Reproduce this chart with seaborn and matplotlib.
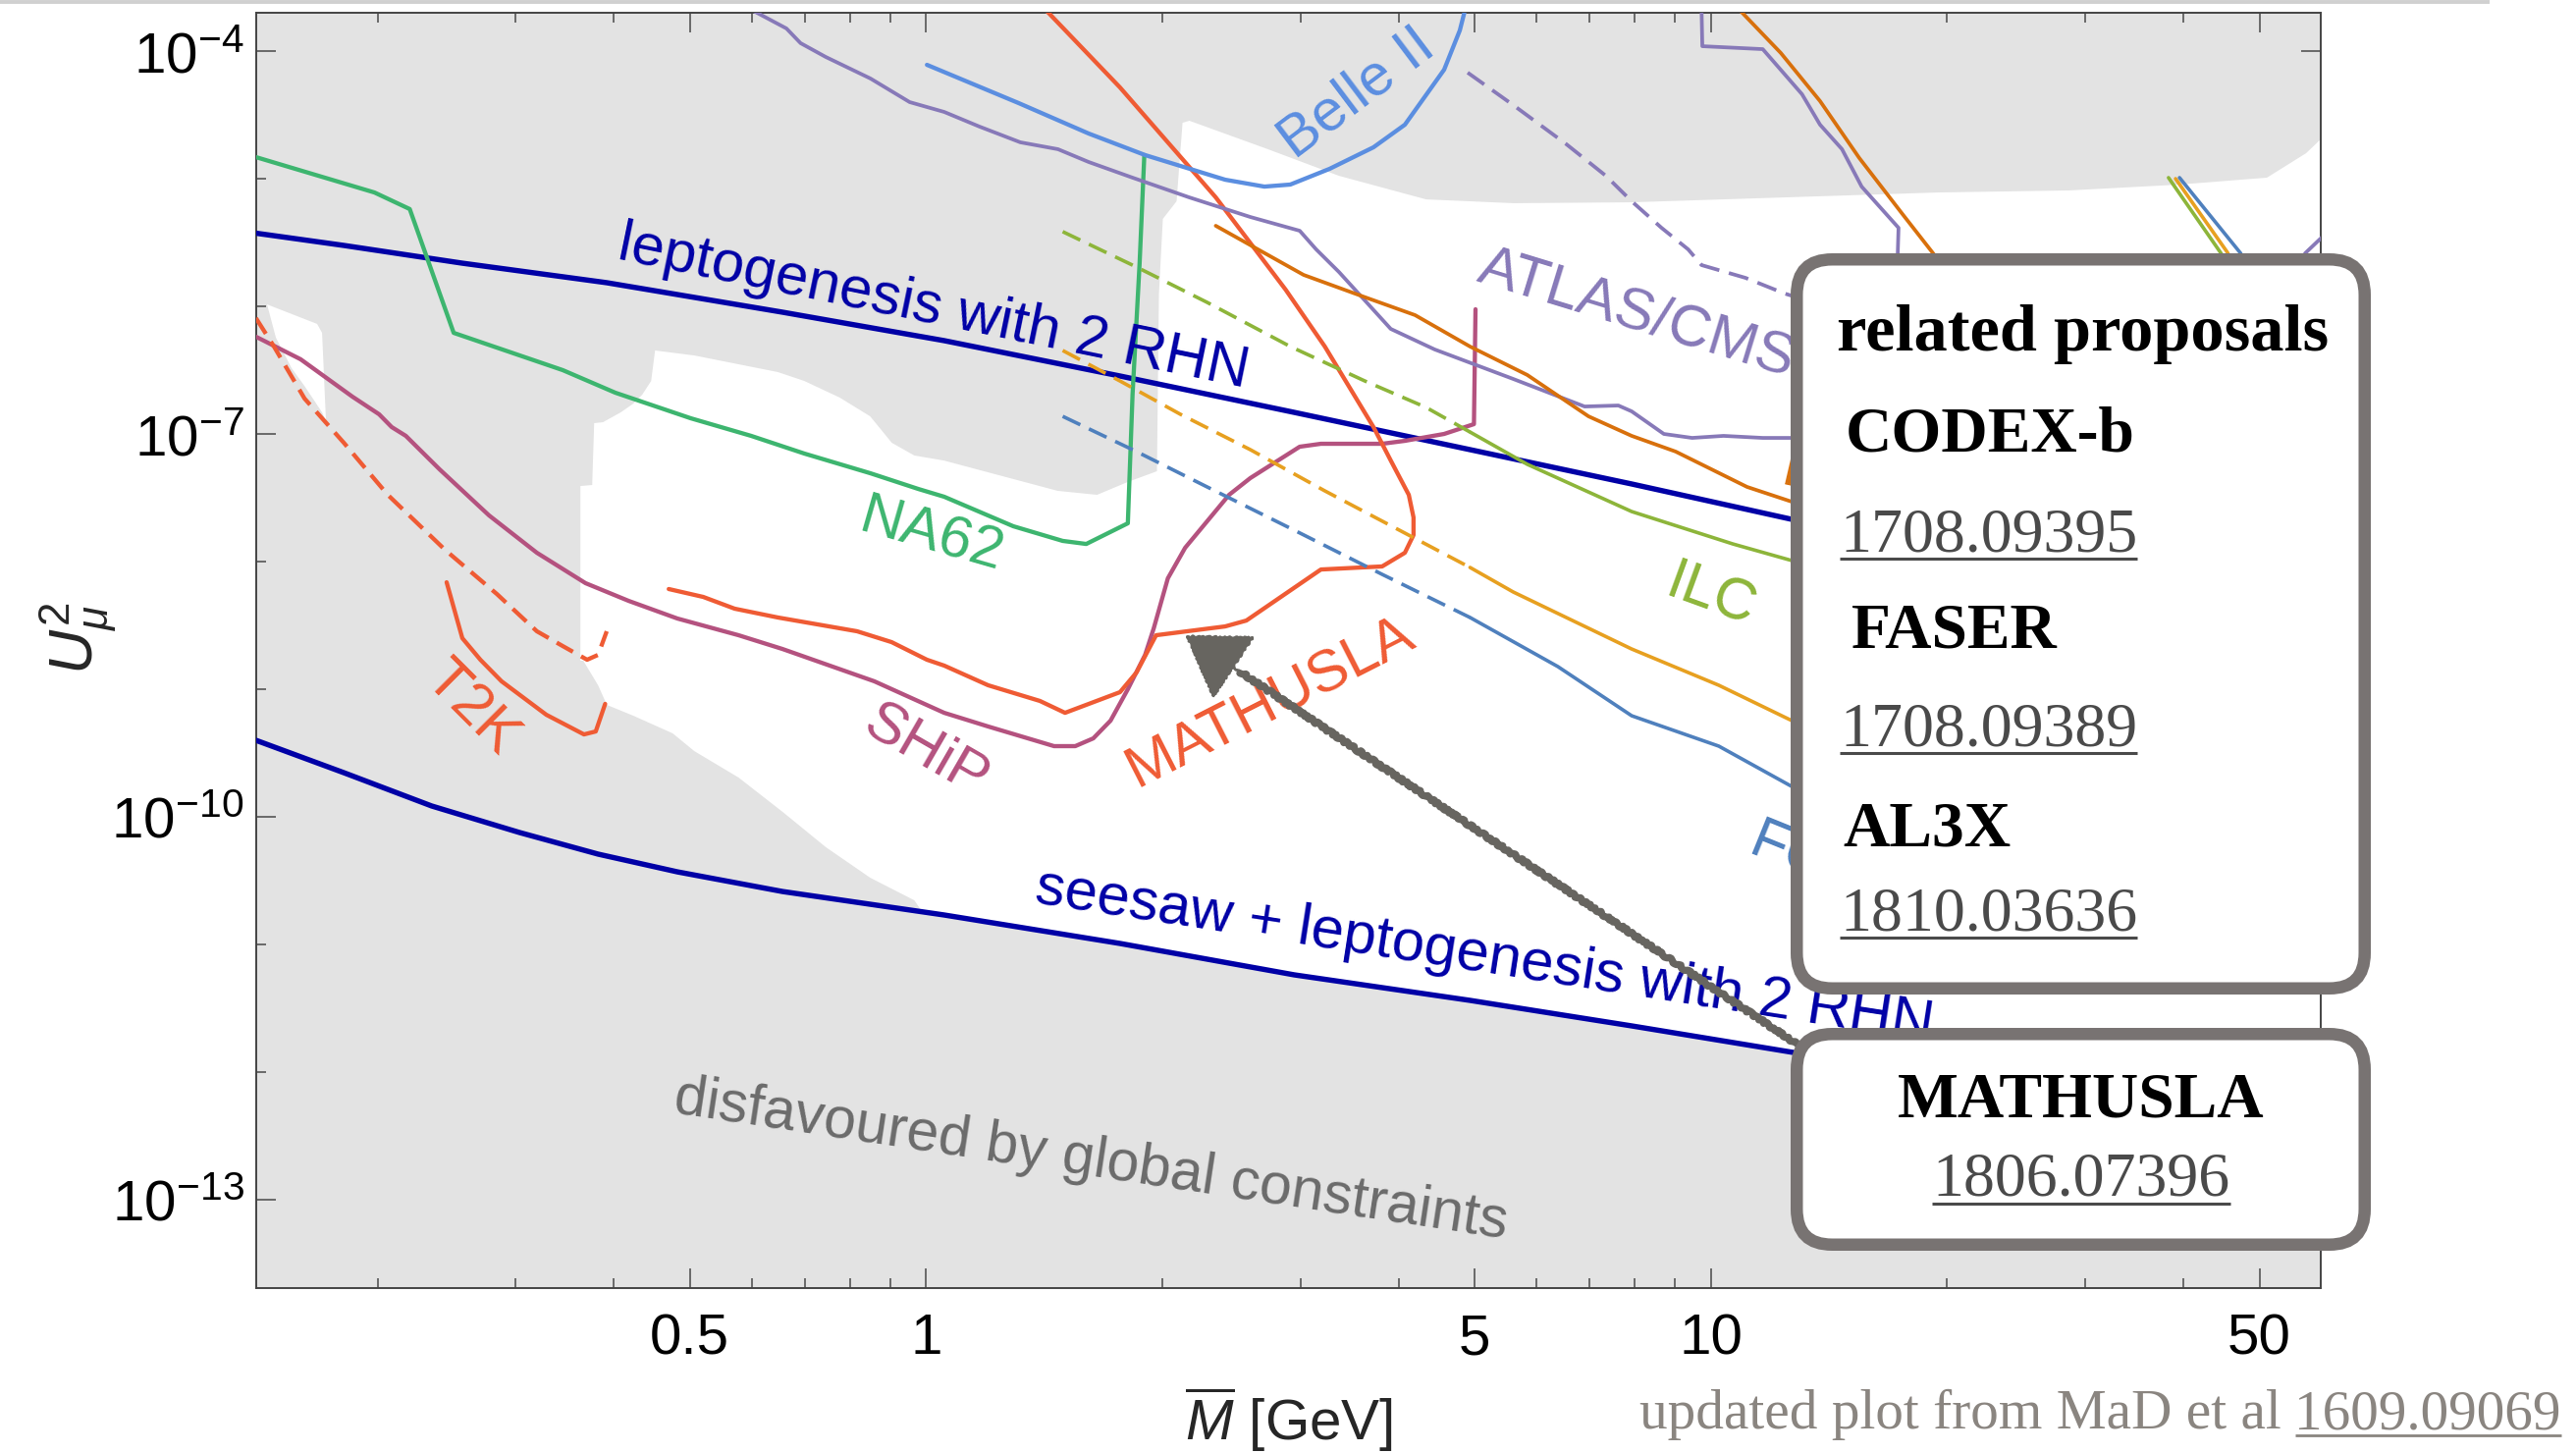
import numpy as np
import matplotlib
matplotlib.use("Agg")
import matplotlib.pyplot as plt
import seaborn as sns
from matplotlib.patches import FancyBboxPatch

sns.set_style("ticks")
plt.rcParams["font.family"] = ["Liberation Sans", "DejaVu Sans"]
plt.rcParams["mathtext.fontset"] = "custom"
plt.rcParams["mathtext.rm"] = "Liberation Sans"
plt.rcParams["mathtext.it"] = "Liberation Sans:italic"
plt.rcParams["mathtext.bf"] = "Liberation Sans:bold"

# ------------------------------------------------------------------
# Curves as log10(M / GeV) and log10(U_mu^2)
# ------------------------------------------------------------------
lepto_logM = [-0.854, -0.742, -0.591, -0.407, -0.183, 0.023, 0.247, 0.469, 0.693, 0.899, 1.103, 1.323]
lepto_logU = [-5.427, -5.523, -5.662, -5.815, -6.046, -6.269, -6.546, -6.831, -7.123, -7.392, -7.669, -7.954]

seesaw_logM = [-0.854, -0.742, -0.630, -0.518, -0.418, -0.317, -0.183, -0.071, 0.023, 0.247, 0.469, 0.693, 0.899, 1.105, 1.78]
seesaw_logU = [-9.400, -9.654, -9.915, -10.123, -10.292, -10.431, -10.585, -10.685, -10.769, -10.992, -11.238, -11.438, -11.638, -11.846, -12.41]

na62_logM = [-0.854, -0.703, -0.658, -0.602, -0.463, -0.396, -0.300, -0.223, -0.155, -0.071, -0.010, 0.023, 0.111, 0.174, 0.204, 0.257, 0.263, 0.272, 0.278]
na62_logU = [-4.831, -5.108, -5.238, -6.208, -6.500, -6.677, -6.877, -7.015, -7.154, -7.308, -7.431, -7.492, -7.723, -7.838, -7.862, -7.700, -6.692, -5.662, -4.815]

ship_logM = [-0.854, -0.797, -0.731, -0.697, -0.681, -0.663, -0.620, -0.557, -0.496, -0.434, -0.379, -0.317, -0.239, -0.183, -0.066, 0.023, 0.079, 0.163, 0.190, 0.213, 0.235, 0.257, 0.279, 0.290, 0.308, 0.330, 0.386, 0.413, 0.476, 0.503, 0.581, 0.610, 0.660, 0.698, 0.700]
ship_logU = [-6.238, -6.415, -6.708, -6.846, -6.946, -7.015, -7.277, -7.638, -7.931, -8.169, -8.308, -8.446, -8.577, -8.685, -8.938, -9.185, -9.292, -9.446, -9.446, -9.385, -9.246, -9.000, -8.731, -8.523, -8.131, -7.892, -7.477, -7.346, -7.100, -7.077, -7.077, -7.054, -7.000, -6.923, -6.023]

mathusla_logM = [-0.328, -0.284, -0.244, -0.189, -0.088, -0.044, 0.001, 0.023, 0.079, 0.145, 0.177, 0.247, 0.268, 0.293, 0.381, 0.408, 0.503, 0.581, 0.610, 0.621, 0.621, 0.615, 0.592, 0.570, 0.508, 0.458, 0.369, 0.247, 0.151, 0.137]
mathusla_logU = [-8.215, -8.277, -8.369, -8.438, -8.546, -8.631, -8.769, -8.815, -8.969, -9.092, -9.185, -9.023, -8.869, -8.577, -8.508, -8.462, -8.062, -8.038, -7.931, -7.792, -7.654, -7.477, -7.208, -6.946, -6.315, -5.869, -5.146, -4.285, -3.669, -3.58]

t2k_logM = [-0.611, -0.591, -0.568, -0.541, -0.484, -0.436, -0.421, -0.409]
t2k_logU = [-8.162, -8.600, -8.769, -8.938, -9.200, -9.354, -9.331, -9.115]

t2k_sens_logM = [-0.854, -0.831, -0.792, -0.742, -0.686, -0.613, -0.547, -0.496, -0.463, -0.432, -0.418, -0.407]
t2k_sens_logU = [-6.092, -6.315, -6.723, -7.069, -7.477, -7.908, -8.254, -8.546, -8.662, -8.769, -8.731, -8.546]

belle_logM = [0.001, 0.118, 0.207, 0.279, 0.381, 0.431, 0.464, 0.514, 0.570, 0.610, 0.660, 0.680, 0.687, 0.690]
belle_logU = [-4.108, -4.408, -4.646, -4.815, -5.008, -5.062, -5.046, -4.923, -4.754, -4.577, -4.146, -3.838, -3.669, -3.58]

atlas_logM = [-0.247, -0.225, -0.178, -0.160, -0.128, -0.071, -0.021, 0.023, 0.068, 0.120, 0.168, 0.207, 0.263, 0.335, 0.413, 0.476, 0.497, 0.526, 0.592, 0.648, 0.748, 0.839, 0.882, 0.899, 0.940, 0.976, 1.016, 1.066, 1.103, 1.198, 1.242, 1.238, 1.239, 1.192, 1.167, 1.139, 1.116, 1.066, 0.989, 0.988, 0.988]
atlas_logU = [-3.58, -3.669, -3.823, -3.938, -4.046, -4.215, -4.400, -4.477, -4.592, -4.715, -4.769, -4.869, -4.992, -5.146, -5.300, -5.408, -5.554, -5.731, -6.177, -6.338, -6.569, -6.785, -6.777, -6.823, -7.000, -7.031, -7.015, -7.031, -7.031, -6.985, -5.908, -5.585, -5.385, -5.062, -4.769, -4.577, -4.338, -3.985, -3.962, -3.669, -3.58]

atlas_dv_logM = [0.690, 0.748, 0.816, 0.866, 0.899, 0.937, 0.971, 0.988, 1.044, 1.094, 1.120]
atlas_dv_logU = [-4.169, -4.423, -4.731, -4.977, -5.177, -5.385, -5.554, -5.677, -5.777, -5.900, -5.950]

atlas_hi_logM = [1.736, 1.757, 1.780]
atlas_hi_logU = [-6.062, -5.585, -5.450]

lhcb_logM = [0.369, 0.481, 0.553, 0.623, 0.693, 0.766, 0.844, 0.899, 0.955, 1.046, 1.103, 1.260, 1.310, 1.284, 1.245, 1.189, 1.139, 1.089, 1.035, 1.025]
lhcb_logU = [-5.369, -5.754, -5.915, -6.069, -6.315, -6.538, -6.862, -7.015, -7.138, -7.415, -7.531, -7.754, -5.908, -5.592, -5.285, -4.838, -4.392, -4.015, -3.669, -3.58]

ilc_dash_logM = [0.174, 0.268, 0.358, 0.464, 0.559, 0.637, 0.693]
ilc_dash_logU = [-5.415, -5.692, -5.969, -6.315, -6.585, -6.792, -6.985]
ilc_logM = [0.693, 0.766, 0.899, 1.028, 1.103, 1.323, 1.673, 1.650, 1.583]
ilc_logU = [-6.985, -7.238, -7.608, -7.862, -7.992, -8.523, -5.908, -5.585, -4.992]

cepc_dash_logM = [0.174, 0.247, 0.324, 0.413, 0.508, 0.603, 0.693]
cepc_dash_logU = [-6.346, -6.585, -6.846, -7.123, -7.446, -7.754, -8.046]
cepc_logM = [0.693, 0.748, 0.899, 1.010, 1.103, 1.323, 1.686, 1.658, 1.592]
cepc_logU = [-8.046, -8.238, -8.685, -8.969, -9.246, -9.754, -5.908, -5.577, -5.000]

fcc_dash_logM = [0.174, 0.268, 0.358, 0.469, 0.581, 0.693]
fcc_dash_logU = [-6.862, -7.138, -7.415, -7.754, -8.100, -8.438]
fcc_logM = [0.693, 0.805, 0.899, 1.010, 1.103, 1.323, 1.698, 1.675, 1.597]
fcc_logU = [-8.438, -8.823, -9.208, -9.446, -9.762, -10.292, -5.908, -5.585, -4.992]

# allowed (white) region: upper edge, then lower-left edge
allowed_top_logM = [-0.4405, -0.4405, -0.4255, -0.423, -0.4118, -0.3892, -0.373, -0.3617, -0.3504, -0.3454, -0.2954, -0.239, -0.189, -0.1552, -0.1101, -0.0713, -0.0438, -0.015, 0.0225, 0.1677, 0.2178, 0.2566, 0.2941, 0.2966, 0.3016, 0.3191, 0.3267, 0.3354, 0.4355, 0.5257, 0.637, 0.7484, 0.8986, 1.2891, 1.4568, 1.597, 1.7084, 1.7584, 1.786, 1.786]
allowed_top_logU = [-8.777, -7.408, -7.4, -6.915, -6.908, -6.831, -6.762, -6.692, -6.585, -6.346, -6.385, -6.454, -6.515, -6.585, -6.715, -6.862, -7.069, -7.169, -7.208, -7.446, -7.477, -7.377, -7.292, -5.908, -5.315, -5.177, -4.562, -4.546, -4.769, -4.977, -5.162, -5.192, -5.185, -5.108, -5.092, -5.046, -4.992, -4.8, -4.638, -12.45]
allowed_low_logM = [-0.004, -0.015, -0.0713, -0.1277, -0.1827, -0.239, -0.2954, -0.3229, -0.373, -0.4068, -0.418, -0.4368]
allowed_low_logU = [-10.754, -10.654, -10.477, -10.238, -9.962, -9.692, -9.485, -9.346, -9.208, -9.123, -8.969, -8.777]
sliver_logM = [-0.8398, -0.776, -0.7697, -0.7647, -0.7697, -0.7922, -0.8085, -0.8285]
sliver_logU = [-5.985, -6.138, -6.208, -6.9, -6.831, -6.623, -6.485, -6.246]

# annotation arrow (data coordinates: M in GeV, U^2)
arrow_tip = (2.14, 2.65e-9)
arrow_tail = (12.9, 1.64e-12)

# axis ticks
x_major = [0.5, 1, 5, 10, 50]
x_major_labels = ["0.5", "1", "5", "10", "50"]
x_minor = [0.2, 0.3, 0.4, 0.6, 0.7, 0.8, 0.9, 2, 3, 4, 6, 7, 8, 9, 20, 30, 40]
y_major = [1e-13, 1e-10, 1e-7, 1e-4]
y_major_labels = [r"$10^{-13}$", r"$10^{-10}$", r"$10^{-7}$", r"$10^{-4}$"]
y_minor = [1e-12, 1e-11, 1e-9, 1e-8, 1e-6, 1e-5]

# ------------------------------------------------------------------
GREY_BG = "#e3e3e3"
DARK_BLUE = "#0000a6"
C_NA62 = "#3db56f"
C_SHIP = "#b4527f"
C_MATH = "#ef5b34"
C_BELLE = "#5b8ee0"
C_ATLAS = "#8779b8"
C_LHCB = "#d8700c"
C_ILC = "#8db53a"
C_CEPC = "#e7a020"
C_FCC = "#4f80bd"
C_ARROW = "#676560"

W, H = 2624, 1480
fig = plt.figure(figsize=(W / 200, H / 200), dpi=200)
ax = fig.add_axes([261 / W, 1 - 1312 / H, 2103 / W, 1299 / H])
ax.set_xscale("log")
ax.set_yscale("log")
ax.set_facecolor(GREY_BG)


def p10(a):
    return 10.0 ** np.asarray(a, dtype=float)


# white allowed region
see_M = np.asarray(seesaw_logM)
see_U = np.asarray(seesaw_logU)
keep = see_M > 0
poly_M = list(allowed_top_logM) + list(see_M[keep][::-1]) + list(allowed_low_logM)
poly_U = list(allowed_top_logU) + list(see_U[keep][::-1]) + list(allowed_low_logU)
ax.fill(p10(poly_M), p10(poly_U), color="white", lw=0, zorder=1)
ax.fill(p10(sliver_logM), p10(sliver_logU), color="white", lw=0, zorder=1)


def curve(lm, lu, color, lw=1.5, ls="-"):
    sns.lineplot(x=p10(lm), y=p10(lu), ax=ax, sort=False, estimator=None,
                 color=color, linewidth=lw, linestyle=ls, zorder=3)


DASH = (0, (5.5, 2.7))
curve(lepto_logM, lepto_logU, DARK_BLUE, 1.95)
curve(seesaw_logM, seesaw_logU, DARK_BLUE, 1.95)
curve(na62_logM, na62_logU, C_NA62, 1.55)
curve(ship_logM, ship_logU, C_SHIP, 1.55)
curve(mathusla_logM, mathusla_logU, C_MATH, 1.55)
curve(t2k_logM, t2k_logU, C_MATH, 1.55)
curve(t2k_sens_logM, t2k_sens_logU, C_MATH, 1.55, (0, (4.4, 2.2)))
curve(belle_logM, belle_logU, C_BELLE, 1.55)
curve(atlas_logM, atlas_logU, C_ATLAS, 1.35)
curve(atlas_dv_logM, atlas_dv_logU, C_ATLAS, 1.35, DASH)
curve(atlas_hi_logM, atlas_hi_logU, C_ATLAS, 1.35)
curve(lhcb_logM, lhcb_logU, C_LHCB, 1.35)
curve(ilc_dash_logM, ilc_dash_logU, C_ILC, 1.3, DASH)
curve(ilc_logM, ilc_logU, C_ILC, 1.3)
curve(cepc_dash_logM, cepc_dash_logU, C_CEPC, 1.3, DASH)
curve(cepc_logM, cepc_logU, C_CEPC, 1.3)
curve(fcc_dash_logM, fcc_dash_logU, C_FCC, 1.3, DASH)
curve(fcc_logM, fcc_logU, C_FCC, 1.3)

ax.set_xlim(10 ** -0.8536, 10 ** 1.777)
ax.set_ylim(10 ** -13.692, 10 ** -3.7)

# curve labels: (text, log10 M, log10 U^2, rotation, colour, anchor)
labels = [
    ("leptogenesis with 2 RHN", -0.3955, -5.623, -11.6, DARK_BLUE, "lb"),
    ("seesaw + leptogenesis with 2 RHN", 0.1364, -10.669, -8.8, DARK_BLUE, "lb"),
    ("NA62", -0.0889, -7.754, -16, C_NA62, "lb"),
    ("SHiP", 0.0, -9.485, -30, C_SHIP, "cc"),
    ("MATHUSLA", 0.2678, -9.777, 27, C_MATH, "lb"),
    ("T2K", -0.5795, -9.154, -45, C_MATH, "cc"),
    ("Belle II", 0.549, -4.331, 37, C_BELLE, "cc"),
    ("ATLAS/CMS", 0.6996, -5.80, -17, C_ATLAS, "lb"),
    ("ILC", 1.0, -8.277, -20, C_ILC, "cc"),
    ("FCC-ee", 1.045, -10.29, -22, C_FCC, "lb"),
    ("LHCb", 1.0864, -7.392, -13, C_LHCB, "lb"),
]
for txt, lm, lu, rot, col, anc in labels:
    ha, va = ("left", "baseline") if anc == "lb" else ("center", "center")
    ax.text(10 ** lm, 10 ** lu, txt, rotation=rot, rotation_mode="anchor",
            ha=ha, va=va, color=col, fontsize=21.5, zorder=4)
ax.text(10 ** -0.3229, 10 ** -12.315, "disfavoured by global constraints",
        rotation=-8.6, rotation_mode="anchor", ha="left", va="baseline",
        color="#6b6b6b", fontsize=21.2, zorder=4)

# arrow pointing at the MATHUSLA curve: rough shaft plus solid head
tipM, tipU = np.log10(arrow_tip[0]), np.log10(arrow_tip[1])
tailM, tailU = np.log10(arrow_tail[0]), np.log10(arrow_tail[1])
neckM = tipM + 0.09 * (tailM - tipM)
neckU = tipU + 0.09 * (tailU - tipU)
shaft = ax.annotate("", xy=(10 ** neckM, 10 ** neckU), xytext=arrow_tail,
                    annotation_clip=False, zorder=5,
                    arrowprops=dict(arrowstyle="-", color=C_ARROW, lw=2.6,
                                    shrinkA=0, shrinkB=0))
shaft.arrow_patch.set_sketch_params(scale=1.4, length=10, randomness=4)
head = ax.annotate("", xy=arrow_tip, xytext=(10 ** neckM, 10 ** neckU),
                   annotation_clip=False, zorder=5,
                   arrowprops=dict(arrowstyle="-|>,head_length=1.0,head_width=0.64",
                                   mutation_scale=20, color=C_ARROW, lw=1.0,
                                   shrinkA=0, shrinkB=0))
head.arrow_patch.set_sketch_params(scale=0.8, length=6, randomness=3)

# axes styling
ax.set_xticks(x_major, x_major_labels)
ax.set_xticks(x_minor, minor=True)
ax.xaxis.set_minor_formatter(matplotlib.ticker.NullFormatter())
ax.set_yticks(y_major, y_major_labels)
ax.set_yticks(y_minor, minor=True)
ax.yaxis.set_minor_formatter(matplotlib.ticker.NullFormatter())
ax.tick_params(which="both", direction="in", top=True, right=True,
               color="#555555", width=0.6, labelsize=21, labelcolor="black")
ax.tick_params(which="major", length=7.2)
ax.tick_params(which="minor", length=3.6)
ax.tick_params(axis="x", which="major", pad=9)
ax.tick_params(axis="y", which="major", pad=4.5)
for s in ax.spines.values():
    s.set_color("#444444")
    s.set_linewidth(0.7)

ax.set_xlabel(r"$\overline{M}$ [GeV]", fontsize=21)
ax.xaxis.set_label_coords(0.5, (1312 - 1467) / 1299)
ax.xaxis.label.set_va("baseline")
ax.set_ylabel(r"$U_\mu^2$", fontsize=22.5)
ax.yaxis.set_label_coords((80 - 261) / 2103, (1312 - 650) / 1299)
ax.yaxis.label.set_va("center")

# ------------------------------------------------------------------
# overlay in pixel units for the reference boxes and the footer
ov = fig.add_axes([0, 0, 1, 1])
ov.set_xlim(0, W)
ov.set_ylim(H, 0)
ov.axis("off")
ov.patch.set_alpha(0)

ov.plot([0, 2536], [2, 2], color="#d0d0d0", lw=1.4, solid_capstyle="butt")

BOX_EDGE = "#787372"
for (x0, y0, x1, y1) in [(1830.25, 264.25, 2408.75, 1006.75),
                         (1830.25, 1053.25, 2408.75, 1267.75)]:
    ov.add_patch(FancyBboxPatch((x0, y0), x1 - x0, y1 - y0,
                                boxstyle="round,pad=0,rounding_size=36",
                                fc="white", ec=BOX_EDGE, lw=4.5, zorder=2))

SERIF = ["Liberation Serif", "DejaVu Serif"]
LINK = "#4a4a4a"
fig.canvas.draw()
renderer = fig.canvas.get_renderer()
inv = ov.transData.inverted()


def underline(t, y, color, lw=1.1):
    bb = t.get_window_extent(renderer)
    (xa, _), (xb, _) = inv.transform([[bb.x0, bb.y0], [bb.x1, bb.y0]])
    ov.plot([xa, xb], [y, y], color=color, lw=lw, solid_capstyle="butt", zorder=3)


heads = [("related proposals", 1871, 357, 24.6), ("CODEX-b", 1880, 460, 23.6),
         ("FASER", 1886, 660, 23.6), ("AL3X", 1877, 861, 23.6)]
for s, x, y, fs in heads:
    ov.text(x, y, s, family=SERIF, weight="bold", fontsize=fs,
            color="black", ha="left", va="baseline", zorder=3)
links = [("1708.09395", 1874, 562), ("1708.09389", 1874, 760), ("1810.03636", 1874, 948)]
for s, x, y in links:
    t = ov.text(x, y, s, family=SERIF, fontsize=23, color=LINK,
                ha="left", va="baseline", zorder=3)
    underline(t, y + 7, LINK)

ov.text(2120, 1138, "MATHUSLA", family=SERIF, weight="bold", fontsize=23.6,
        color="black", ha="center", va="baseline", zorder=3)
t = ov.text(2120, 1218, "1806.07396", family=SERIF, fontsize=23, color=LINK,
            ha="center", va="baseline", zorder=3)
underline(t, 1226, LINK)

FOOT = "#8a8580"
num = ov.text(2609, 1455, "1609.09069", family=SERIF, fontsize=20.6, color=FOOT,
              ha="right", va="baseline")
bb = num.get_window_extent(renderer)
left_x = inv.transform([[bb.x0, bb.y0]])[0][0]
ov.text(left_x - 14, 1455, "updated plot from MaD et al", family=SERIF, fontsize=20.6,
        color=FOOT, ha="right", va="baseline")
underline(num, 1462, FOOT, lw=1.0)

fig.savefig("out.png", dpi=200, facecolor="white")
